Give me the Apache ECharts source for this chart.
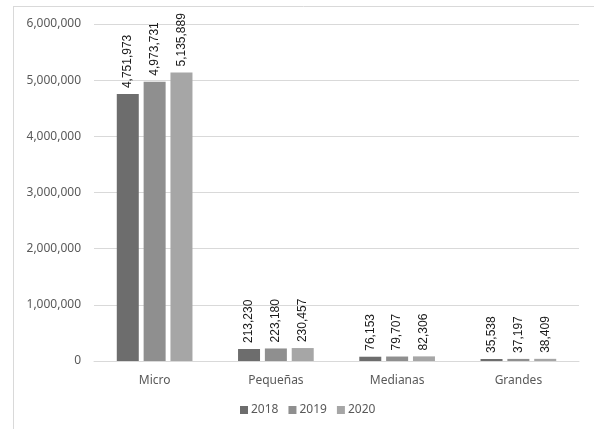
<!DOCTYPE html>
<html><head><meta charset="utf-8">
<script src="https://cdn.jsdelivr.net/npm/echarts@6/dist/echarts.min.js"></script>
<style>html,body{margin:0;padding:0;background:#fff}#c{width:594px;height:429px}</style>
</head><body><div id="c"></div>
<script>
const categories = ['Micro', 'Pequeñas', 'Medianas', 'Grandes'];
const years = ['2018', '2019', '2020'];
const v2018 = [4751973, 213230, 76153, 35538];
const v2019 = [4973731, 223180, 79707, 37197];
const v2020 = [5135889, 230457, 82306, 38409];
const colors = ['#6d6d6d', '#8f8f8f', '#a6a6a6'];
const fmt = v => v.toLocaleString('en-US');
const chart = echarts.init(document.getElementById('c'));
const mk = (name, data, color) => ({
  name, type: 'bar', data, barWidth: 22, barGap: '22%',
  itemStyle: { color },
  label: { show: true, position: 'top', rotate: 90, align: 'left', verticalAlign: 'middle', distance: 6,
    formatter: p => fmt(p.value), fontFamily: 'Liberation Sans Narrow, Arial Narrow, sans-serif', fontSize: 12, color: '#1a1a1a' }
});
chart.setOption({
  animation: false,
  textStyle: { fontFamily: 'Noto Sans, sans-serif' },
  graphic: [
    { type: 'line', shape: { x1: 13, y1: 6.5, x2: 594, y2: 6.5 }, style: { stroke: '#d9d9d9', lineWidth: 1 } },
    { type: 'line', shape: { x1: 13.5, y1: 6, x2: 13.5, y2: 429 }, style: { stroke: '#d9d9d9', lineWidth: 1 } }
  ],
  grid: { left: 94, right: 15, top: 24, bottom: 68 },
  legend: { bottom: 8, left: 235, itemWidth: 8, itemHeight: 8, itemGap: 10, icon: 'rect',
    textStyle: { color: '#595959', fontSize: 12, fontFamily: 'Noto Sans, sans-serif', padding: [0, 0, 0, -2] }, data: years },
  xAxis: { type: 'category', data: categories,
    axisLine: { lineStyle: { color: '#d9d9d9' } }, axisTick: { show: false },
    axisLabel: { color: '#595959', fontSize: 12, margin: 14, fontFamily: 'Noto Sans, sans-serif' } },
  yAxis: { type: 'value', min: 0, max: 6000000, interval: 1000000,
    axisLabel: { color: '#595959', fontSize: 12, formatter: v => fmt(v), margin: 13, fontFamily: 'Noto Sans, sans-serif' },
    splitLine: { lineStyle: { color: '#d9d9d9' } }, axisLine: { show: false }, axisTick: { show: false } },
  series: [mk('2018', v2018, colors[0]), mk('2019', v2019, colors[1]), mk('2020', v2020, colors[2])]
});
</script></body></html>
